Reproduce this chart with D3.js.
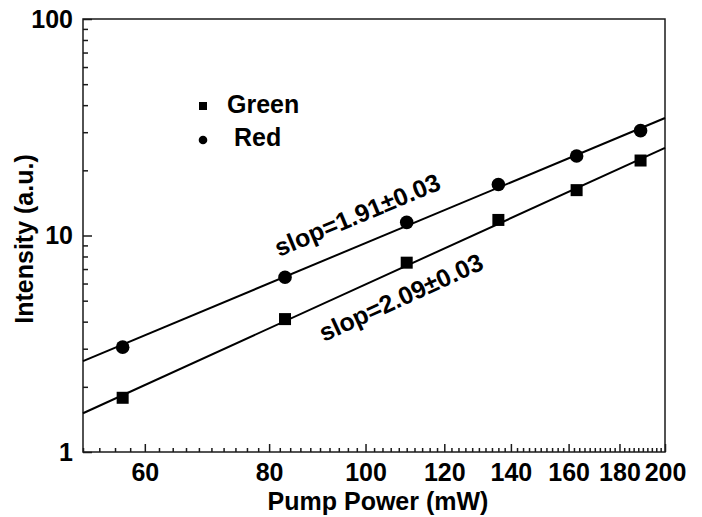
<!DOCTYPE html>
<html>
<head>
<meta charset="utf-8">
<script src="https://cdn.jsdelivr.net/npm/d3@7"></script>
<style>
  body { margin: 0; background: #fff; }
  svg { display: block; font-family: "Liberation Sans", Arial, sans-serif; font-weight: bold; }
</style>
</head>
<body>
<div class="chart"></div>
<script>
// Upconversion intensity vs pump power (log-log)
var pumpPower = [57, 83, 110, 136, 163, 189];
var greenIntensity = [1.78, 4.11, 7.49, 11.8, 16.2, 22.2];
var redIntensity = [3.05, 6.41, 11.5, 17.2, 23.3, 30.5];

// fitted lines, given by their end points
var fitPower = [52, 200];
var greenFit = [1.51, 25.4];
var redFit = [2.63, 34.9];

var xTickValues = [60, 80, 100, 120, 140, 160, 180, 200];
var yTickValues = [1, 10, 100];
var slopeLabels = ["slop=1.91\u00b10.03", "slop=2.09\u00b10.03"];

var svgWidth = 702;
var svgHeight = 517;
var margin = { top: 19, right: 37, bottom: 65, left: 83 };
var chartWidth = svgWidth - margin.left - margin.right;
var chartHeight = svgHeight - margin.top - margin.bottom;

var svg = d3.select(".chart")
            .append("svg")
            .attr("width", svgWidth)
            .attr("height", svgHeight);

var chartGroup = svg.append("g")
                    .attr("transform", `translate(${margin.left}, ${margin.top})`);

var xScale = d3.scaleLog().domain([52, 200]).range([0, chartWidth]);
var yScale = d3.scaleLog().domain([1, 100]).range([chartHeight, 0]);

// minor ticks
var xMinor = d3.range(52, 201, 2).filter(d => xTickValues.indexOf(d) < 0);
var yMinor = [];
[1, 10].forEach(function(dec) {
  for (var k = 2; k <= 9; k++) yMinor.push(dec * k);
});

var ink = "#1a1a1a";

chartGroup.append("g")
          .attr("transform", `translate(0, ${chartHeight})`)
          .call(d3.axisBottom(xScale).tickValues(xMinor).tickSize(-4).tickFormat(""))
          .call(g => g.select(".domain").remove());

chartGroup.append("g")
          .call(d3.axisLeft(yScale).tickValues(yMinor).tickSize(-5).tickFormat(""))
          .call(g => g.select(".domain").remove());

var xAxis = chartGroup.append("g")
          .attr("transform", `translate(0, ${chartHeight})`)
          .call(d3.axisBottom(xScale).tickValues(xTickValues).tickSizeInner(-8).tickSizeOuter(0)
                  .tickPadding(11).tickFormat(d3.format("d")));

var yAxis = chartGroup.append("g")
          .call(d3.axisLeft(yScale).tickValues(yTickValues).tickSizeInner(-9).tickSizeOuter(0)
                  .tickPadding(10).tickFormat(d3.format("d")));

[xAxis, yAxis].forEach(function(ax) {
  ax.selectAll("text")
    .attr("font-family", "'Liberation Sans', Arial, sans-serif")
    .attr("font-weight", "bold")
    .attr("font-size", "25px")
    .attr("fill", "#000");
  ax.select(".domain").remove();
});

chartGroup.selectAll(".tick line")
          .attr("stroke", ink)
          .attr("stroke-width", 1.5);

// frame
chartGroup.append("rect")
          .attr("x", 0)
          .attr("y", 0)
          .attr("width", chartWidth)
          .attr("height", chartHeight)
          .attr("fill", "none")
          .attr("stroke", ink)
          .attr("stroke-width", 1.5);

// fitted lines
var line = d3.line()
             .x(d => xScale(d[0]))
             .y(d => yScale(d[1]));

[greenFit, redFit].forEach(function(fit) {
  chartGroup.append("path")
            .datum(fitPower.map((p, i) => [p, fit[i]]))
            .attr("d", line)
            .attr("fill", "none")
            .attr("stroke", "#000")
            .attr("stroke-width", 2);
});

// data markers
var sq = 12;
chartGroup.selectAll(".green-pt")
          .data(pumpPower.map((p, i) => [p, greenIntensity[i]]))
          .enter()
          .append("rect")
          .attr("class", "green-pt")
          .attr("x", d => xScale(d[0]) - sq / 2)
          .attr("y", d => yScale(d[1]) - sq / 2)
          .attr("width", sq)
          .attr("height", sq)
          .attr("fill", "#000");

chartGroup.selectAll(".red-pt")
          .data(pumpPower.map((p, i) => [p, redIntensity[i]]))
          .enter()
          .append("circle")
          .attr("class", "red-pt")
          .attr("cx", d => xScale(d[0]))
          .attr("cy", d => yScale(d[1]))
          .attr("r", 6.8)
          .attr("fill", "#000");

// slope annotations, rotated along the fitted lines
function lineAngle(fit) {
  var dx = xScale(fitPower[1]) - xScale(fitPower[0]);
  var dy = yScale(fit[1]) - yScale(fit[0]);
  return Math.atan2(dy, dx) * 180 / Math.PI;
}

var annots = [
  { text: slopeLabels[0], x: 279, y: 257, angle: lineAngle(redFit) },
  { text: slopeLabels[1], x: 324, y: 342, angle: lineAngle(greenFit) }
];

svg.selectAll(".slope")
   .data(annots)
   .enter()
   .append("text")
   .attr("class", "slope")
   .attr("transform", d => `translate(${d.x}, ${d.y}) rotate(${d.angle})`)
   .attr("font-size", "25px")
   .attr("fill", "#000")
   .text(d => d.text);

// legend
svg.append("rect")
   .attr("x", 199).attr("y", 102)
   .attr("width", 8).attr("height", 8)
   .attr("fill", "#000");
svg.append("text")
   .attr("x", 227).attr("y", 113)
   .attr("font-size", "25px")
   .text("Green");
svg.append("circle")
   .attr("cx", 203).attr("cy", 140)
   .attr("r", 4.3)
   .attr("fill", "#000");
svg.append("text")
   .attr("x", 234).attr("y", 146)
   .attr("font-size", "25px")
   .text("Red");

// axis titles
svg.append("text")
   .attr("transform", "translate(378, 509.5)")
   .attr("text-anchor", "middle")
   .attr("font-size", "25px")
   .text("Pump Power (mW)");

svg.append("text")
   .attr("transform", "translate(33, 239) rotate(-90)")
   .attr("text-anchor", "middle")
   .attr("font-size", "25px")
   .text("Intensity (a.u.)");
</script>
</body>
</html>
